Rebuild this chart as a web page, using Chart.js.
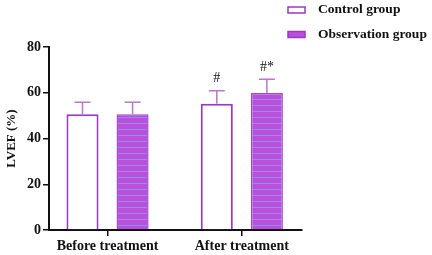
<!DOCTYPE html>
<html>
<head>
<meta charset="utf-8">
<script src="https://cdn.jsdelivr.net/npm/chart.js@4.4.0/dist/chart.umd.min.js"></script>
<style>
  html, body { margin: 0; padding: 0; background: #fff; }
  #wrap { width: 432px; height: 255px; position: relative; }
</style>
</head>
<body>
<div id="wrap"><canvas id="lvefChart"></canvas></div>
<script>
// data
var categories = ['Before treatment', 'After treatment'];
var seriesNames = ['Control group', 'Observation group'];
var controlMean = [50.6, 55.2];
var controlErr = [5.2, 5.7];
var obsMean = [50.6, 59.9];
var obsErr = [5.2, 6.0];
var controlMarks = ['', '#'];
var obsMarks = ['', '#*'];
var yTicks = [0, 20, 40, 60, 80];

var serif = "'Liberation Serif', 'Times New Roman', serif";
var purple = '#9b38c8';
var obsFill = '#bb4fd9';
var errColor = '#b27acb';

// striped fill for the observation bars
function stripePattern() {
    var c = document.createElement('canvas');
    c.width = 8;
    c.height = 6;
    var g = c.getContext('2d');
    g.fillStyle = obsFill;
    g.fillRect(0, 0, 8, 6);
    g.fillStyle = '#8f8cf2';
    g.fillRect(0, 3, 8, 1);
    return g.createPattern(c, 'repeat');
}

function points(arr) {
    return arr.map(function(v, i) { return { x: i, y: v }; });
}

var errorBars = {
    id: 'errorBars',
    afterDatasetsDraw: function(chart) {
        var ctx = chart.ctx;
        var yScale = chart.scales.y;
        chart.data.datasets.forEach(function(ds, di) {
            var meta = chart.getDatasetMeta(di);
            meta.data.forEach(function(bar, i) {
                var top = yScale.getPixelForValue(ds.data[i].y + ds.errors[i]);
                ctx.save();
                ctx.strokeStyle = errColor;
                ctx.lineWidth = 1.5;
                ctx.beginPath();
                ctx.moveTo(bar.x, bar.y);
                ctx.lineTo(bar.x, top);
                ctx.moveTo(bar.x - 8, top);
                ctx.lineTo(bar.x + 8, top);
                ctx.stroke();
                if (ds.marks[i]) {
                    ctx.fillStyle = '#111';
                    ctx.font = '14px ' + serif;
                    ctx.textAlign = 'center';
                    ctx.textBaseline = 'bottom';
                    ctx.fillText(ds.marks[i], bar.x, top - 5);
                }
                ctx.restore();
            });
        });
    }
};

var sideLegend = {
    id: 'sideLegend',
    afterDraw: function(chart) {
        var ctx = chart.ctx;
        ctx.save();
        ctx.font = 'bold 13.5px ' + serif;
        ctx.textBaseline = 'middle';
        chart.data.datasets.forEach(function(ds, i) {
            var cy = 10 + i * 24.5;
            ctx.fillStyle = i === 0 ? '#fff' : obsFill;
            ctx.fillRect(288, cy - 3, 17, 6);
            ctx.strokeStyle = purple;
            ctx.lineWidth = 1.5;
            ctx.strokeRect(288, cy - 3, 17, 6);
            ctx.fillStyle = '#111';
            ctx.fillText(ds.label, 318, cy);
        });
        ctx.restore();
    }
};

var ctx = document.getElementById('lvefChart');
var lvefChart = new Chart(ctx, {
    type: 'bar',
    data: {
        datasets: [{
            label: seriesNames[0],
            data: points(controlMean),
            errors: controlErr,
            marks: controlMarks,
            backgroundColor: '#ffffff',
            borderColor: purple,
            borderWidth: 2,
            categoryPercentage: 0.746,
            barPercentage: 0.64
        }, {
            label: seriesNames[1],
            data: points(obsMean),
            errors: obsErr,
            marks: obsMarks,
            backgroundColor: stripePattern(),
            borderColor: '#a548cf',
            borderWidth: 1.5,
            categoryPercentage: 0.746,
            barPercentage: 0.64
        }]
    },
    options: {
        responsive: true,
        maintainAspectRatio: false,
        animation: false,
        layout: { padding: { top: 47, right: 130, left: 0, bottom: 0 } },
        plugins: {
            legend: { display: false },
            tooltip: { enabled: false }
        },
        scales: {
            x: {
                type: 'linear',
                offset: false,
                min: -0.436,
                max: 1.448,
                afterBuildTicks: function(scale) {
                    scale.ticks = categories.map(function(c, i) { return { value: i }; });
                },
                afterFit: function(scale) { scale.height = 25; },
                grid: { offset: false, drawOnChartArea: false, tickLength: 6, color: '#111', lineWidth: 1.5 },
                border: { color: '#111', width: 2 },
                ticks: {
                    padding: 2,
                    color: '#111',
                    font: { family: serif, size: 14, weight: 'bold' },
                    callback: function(v) { return categories[v]; }
                }
            },
            y: {
                min: yTicks[0],
                max: yTicks[yTicks.length - 1],
                afterFit: function(scale) { scale.width = 49; },
                afterBuildTicks: function(scale) {
                    scale.ticks = yTicks.map(function(v) { return { value: v }; });
                },
                grid: { drawOnChartArea: false, tickLength: 6, color: '#111', lineWidth: 1.5 },
                border: { color: '#111', width: 2 },
                title: {
                    display: true,
                    text: 'LVEF (%)',
                    color: '#111',
                    padding: { top: 4, bottom: 0 },
                    font: { family: serif, size: 13, weight: 'bold' }
                },
                ticks: {
                    padding: 2,
                    color: '#111',
                    font: { family: serif, size: 14, weight: 'bold' }
                }
            }
        }
    },
    plugins: [errorBars, sideLegend]
});
</script>
</body>
</html>
